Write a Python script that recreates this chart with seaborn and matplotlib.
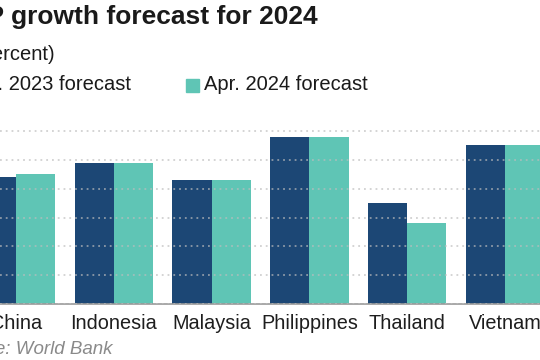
import matplotlib
matplotlib.use('Agg')
import matplotlib.pyplot as plt
import seaborn as sns
import pandas as pd
from matplotlib.patches import Rectangle

countries = ["China", "Indonesia", "Malaysia", "Philippines", "Thailand", "Vietnam"]
oct_2023 = [4.4, 4.9, 4.3, 5.8, 3.5, 5.5]
apr_2024 = [4.5, 4.9, 4.3, 5.8, 2.8, 5.5]
series = ["Oct. 2023 forecast", "Apr. 2024 forecast"]
colors = ["#1c4775", "#5fc5b5"]
title = "GDP growth forecast for 2024"
subtitle = "(percent)"
source = "Source: World Bank"
grid_values = [0, 1, 2, 3, 4, 5, 6]

df = pd.DataFrame({
    "country": countries * 2,
    "value": oct_2023 + apr_2024,
    "series": [series[0]] * len(countries) + [series[1]] * len(countries),
})

sns.set_theme(style="white")
plt.rcParams['font.family'] = ['Liberation Sans', 'DejaVu Sans']

W, H = 540, 360
fig = plt.figure(figsize=(W / 100, H / 100), dpi=100)
ymax = 6.3
unit_px = (304 - 131) / 6
ax = fig.add_axes([0, (H - 304) / H, 1, unit_px * ymax / H])

sns.barplot(data=df, x="country", y="value", hue="series", palette=colors,
            width=0.8, saturation=1, ax=ax, legend=False, gap=0, linewidth=0)

spacing = 97.8
ax.set_xlim(-16 / spacing, (W - 16) / spacing)
ax.set_ylim(0, ymax)
ax.set_yticks(grid_values)
ax.set_yticklabels([])
ax.tick_params(axis='y', length=0)
ax.tick_params(axis='x', length=3, width=2, color='black', direction='out',
               pad=4, labelsize=14.3, labelcolor='#1e1e1e')
ax.set_xlabel("")
ax.set_ylabel("")
ax.set_axisbelow(False)
ax.yaxis.grid(True, linestyle=(0, (1, 2.2)), color='#bdbdbd', linewidth=1.3, alpha=0.7)
ax.xaxis.grid(False)
for s in ['top', 'left', 'right']:
    ax.spines[s].set_visible(False)
ax.spines['bottom'].set_color('#9a9a9a')
ax.spines['bottom'].set_linewidth(1.2)
ax.patch.set_alpha(0)

txt = '#1a1a1a'
fig.text(318 / W, 1 - 17 / H, title, ha='right', va='center', weight='bold',
         fontsize=19, color=txt)
fig.text(55 / W, 1 - 54 / H, subtitle, ha='right', va='center', fontsize=14.5, color=txt)

# legend
fig.text(131 / W, 1 - 85 / H, series[0], ha='right', va='center', fontsize=14.5, color=txt)
fig.patches.append(Rectangle(((131 - 165 - 19) / W, 1 - 91.5 / H), 13.3 / W, 13 / H,
                             transform=fig.transFigure, color=colors[0], figure=fig))
fig.patches.append(Rectangle((185.7 / W, 1 - 91.5 / H), 13.3 / W, 13 / H,
                             transform=fig.transFigure, color=colors[1], figure=fig))
fig.text(204 / W, 1 - 85 / H, series[1], ha='left', va='center', fontsize=14.5, color=txt)

fig.text(113 / W, 1 - 350 / H, source, ha='right', va='center', style='italic',
         color='#8a8a8a', fontsize=13.5)

fig.savefig("out.png", dpi=100)
